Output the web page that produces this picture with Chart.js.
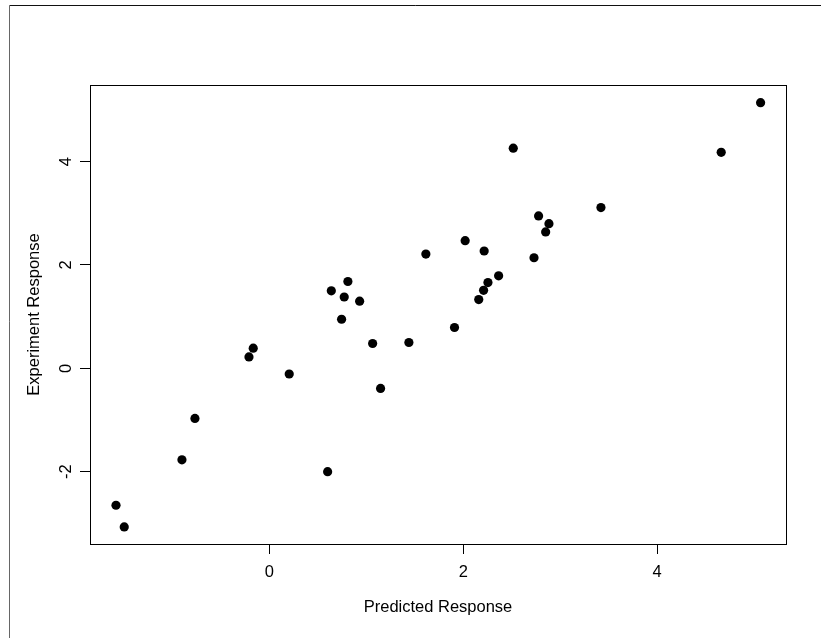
<!DOCTYPE html>
<html>
<head>
<meta charset="utf-8">
<title>Predicted vs Experiment Response</title>
<script src="https://cdn.jsdelivr.net/npm/chart.js@4/dist/chart.umd.min.js"></script>
<style>
    html, body { margin: 0; padding: 0; background: #fff; }
    canvas { display: block; }
</style>
</head>
<body>
<canvas id="respChart" width="821" height="638"></canvas>
<script>
// predicted (x) and measured (y) response for each run
const predicted = [
    -1.58, -1.495, -0.90, -0.766, -0.209, -0.165, 0.206, 0.602,
    0.64, 0.746, 0.773, 0.811, 0.932, 1.066, 1.148, 1.44,
    1.615, 1.91, 2.02, 2.16, 2.21, 2.216, 2.255, 2.365,
    2.516, 2.73, 2.777, 2.85, 2.884, 3.42, 4.66, 5.066
];
const experiment = [
    -2.65, -3.07, -1.77, -0.97, 0.22, 0.39, -0.11, -2.00,
    1.50, 0.95, 1.38, 1.68, 1.30, 0.48, -0.39, 0.50,
    2.21, 0.79, 2.47, 1.33, 1.51, 2.27, 1.66, 1.79,
    4.26, 2.14, 2.95, 2.64, 2.80, 3.11, 4.18, 5.14
];

const xTicks = [0, 2, 4];
const yTicks = [-2, 0, 2, 4];
const xRange = [-1.848, 5.328];
const yRange = [-3.40, 5.483];

const labelFont = { family: "'Liberation Sans', Arial, sans-serif", size: 16.5 };

// box around the plotting region plus the outer figure frame
const frames = {
    id: 'frames',
    afterDraw(chart) {
        const { ctx, chartArea: a } = chart;
        ctx.save();
        ctx.lineWidth = 1;
        ctx.strokeStyle = '#000';
        ctx.strokeRect(a.left + 0.5, a.top + 0.5, a.right - a.left, a.bottom - a.top);

        ctx.strokeStyle = '#111';
        ctx.beginPath();
        ctx.moveTo(9.5, 5.5);
        ctx.lineTo(chart.width, 5.5);
        ctx.stroke();
        ctx.strokeStyle = '#666';
        ctx.beginPath();
        ctx.moveTo(9.5, 5.5);
        ctx.lineTo(9.5, chart.height);
        ctx.stroke();
        ctx.restore();
    }
};

const ctx = document.getElementById('respChart').getContext('2d');
new Chart(ctx, {
    type: 'scatter',
    data: {
        datasets: [{
            data: predicted.map((x, i) => ({ x, y: experiment[i] })),
            backgroundColor: '#000',
            borderWidth: 0,
            pointRadius: 4.6,
            pointHoverRadius: 4.6
        }]
    },
    options: {
        responsive: false,
        animation: false,
        layout: { padding: { left: 0, top: 85, right: 35, bottom: 0 } },
        plugins: {
            legend: { display: false },
            tooltip: { enabled: false }
        },
        scales: {
            x: {
                type: 'linear',
                min: xRange[0],
                max: xRange[1],
                afterBuildTicks: s => { s.ticks = xTicks.map(v => ({ value: v })); },
                afterFit: s => { s.height = 94; },
                grid: { drawOnChartArea: false, drawTicks: true, tickLength: 10, color: '#000' },
                border: { display: false },
                ticks: { color: '#000', font: labelFont, padding: 9, maxRotation: 0 },
                title: {
                    display: true,
                    text: 'Predicted Response',
                    color: '#000',
                    font: labelFont,
                    padding: { top: 0, bottom: 21 }
                }
            },
            y: {
                type: 'linear',
                min: yRange[0],
                max: yRange[1],
                afterBuildTicks: s => { s.ticks = yTicks.map(v => ({ value: v })); },
                afterFit: s => { s.width = 90; },
                grid: { drawOnChartArea: false, drawTicks: true, tickLength: 10, color: '#000' },
                border: { display: false },
                ticks: {
                    color: '#000',
                    font: labelFont,
                    padding: 6,
                    minRotation: 90,
                    maxRotation: 90,
                    crossAlign: 'center'
                },
                title: {
                    display: true,
                    text: 'Experiment Response',
                    color: '#000',
                    font: labelFont,
                    padding: { top: 25, bottom: 0 }
                }
            }
        }
    },
    plugins: [frames]
});
</script>
</body>
</html>
